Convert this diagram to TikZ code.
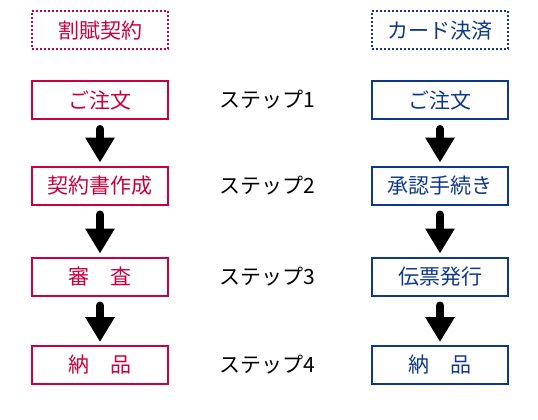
\documentclass[tikz,border=0pt]{standalone}
\usepackage{fontspec}
\setmainfont{Noto Sans CJK JP}
\usetikzlibrary{arrows.meta}
\definecolor{KappuRed}{RGB}{200,0,60}
\definecolor{CardBlue}{RGB}{15,55,140}

\begin{document}
\begin{tikzpicture}[
  x=1pt, y=-1pt,
  every node/.style={font=\fontsize{21}{25}\selectfont},
  boxstep/.style={draw, line width=2pt, minimum width=136pt, minimum height=38pt, inner sep=0pt},
  headbox/.style={boxstep, dash pattern=on 2pt off 2pt},
  arrow/.style={-{Triangle[width=28pt,length=25pt]}, line width=8pt, line cap=round, shorten <=9pt, shorten >=3pt}
]
  \useasboundingbox (0,0) rectangle (538,420);

  % Left column: installment contract
  \node[headbox, KappuRed] (k0) at (100,30.5) {割賦契約};
  \node[boxstep, KappuRed] (k1) at (100,100) {ご注文};
  \node[boxstep, KappuRed] (k2) at (100,185.5) {契約書作成};
  \node[boxstep, KappuRed] (k3) at (100,276.5) {審　査};
  \node[boxstep, KappuRed] (k4) at (100,365) {納　品};

  % Right column: card payment
  \node[headbox, CardBlue] (c0) at (440,30.5) {カード決済};
  \node[boxstep, CardBlue] (c1) at (440,100) {ご注文};
  \node[boxstep, CardBlue] (c2) at (440,185.5) {承認手続き};
  \node[boxstep, CardBlue] (c3) at (440,276.5) {伝票発行};
  \node[boxstep, CardBlue] (c4) at (440,365) {納　品};

  % Step labels
  \foreach \i in {1,...,4} {
    \node (s\i) at (267,0 |- k\i) {ステップ\i};
  }

  % Arrows
  \foreach \a/\b in {1/2, 2/3, 3/4} {
    \draw[arrow] (k\a.south) -- (k\b.north);
    \draw[arrow] (c\a.south) -- (c\b.north);
  }

\end{tikzpicture}
\end{document}
